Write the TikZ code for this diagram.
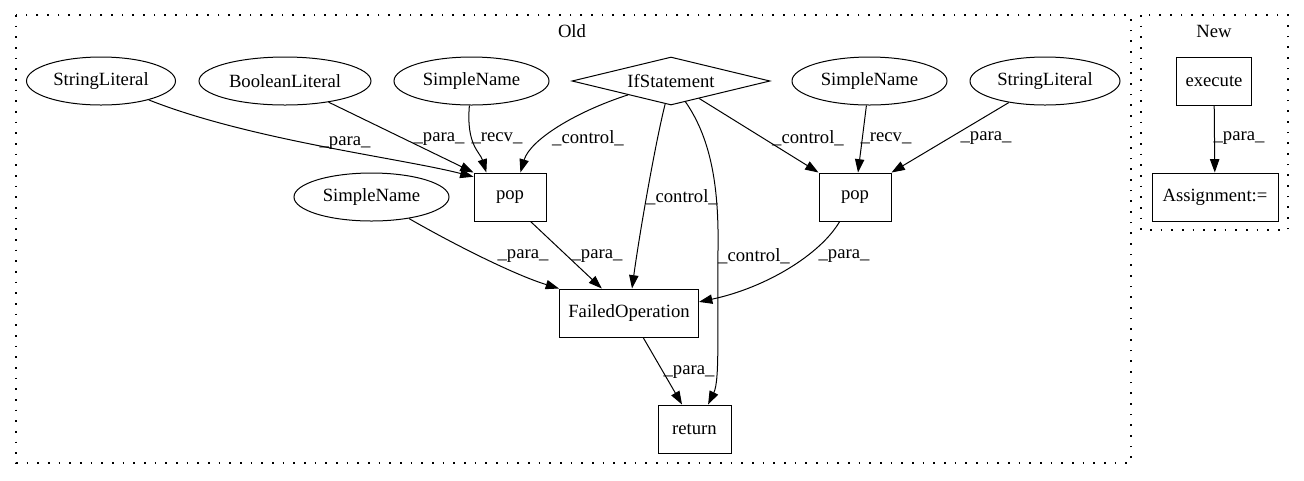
\documentclass[tikz,border=0pt]{standalone}
\usepackage{fontspec}
\setmainfont{Liberation Serif}
\usetikzlibrary{arrows.meta,shapes.geometric}
\tikzset{
  every node/.style={font=\fontsize{14pt}{16pt}\selectfont, inner sep=0pt},
  ell/.style={draw, ellipse, line width=0.75pt, minimum height=36pt},
  box/.style={draw, rectangle, line width=0.75pt, minimum height=36pt, minimum width=54pt},
  dia/.style={draw, diamond, aspect=4.125, line width=0.75pt, minimum width=148.5pt, minimum height=36pt},
  cluster/.style={draw, line width=0.9pt, dash pattern=on 1.2pt off 6.8pt},
  edge/.style={draw, line width=0.75pt, -{Triangle[length=10pt,width=7pt]}},
  lab/.style={font=\fontsize{14pt}{16pt}\selectfont}
}
\begin{document}
\begin{tikzpicture}[x=0.75pt,y=-0.75pt]
\useasboundingbox (0,0) rectangle (1304,480);
% clusters
\draw[cluster] (16,15) rectangle (1131,463);
\draw[cluster] (1141,15) rectangle (1288,230);
\node (oldlab) at (572,31) {Old};
\node (newlab) at (1214,31) {New};
% nodes
\node[ell, minimum width=111.75pt] (sl1) at (101,81) {StringLiteral};
\node[ell, minimum width=129pt] (bl) at (285,81) {BooleanLiteral};
\node[ell, minimum width=116.25pt] (sn1) at (471.5,81) {SimpleName};
\node[dia] (if) at (671,81) {IfStatement};
\node[ell, minimum width=116.25pt] (sn3) at (869.5,81) {SimpleName};
\node[ell, minimum width=112.5pt] (sl2) at (1045,81) {StringLiteral};
\node[ell, minimum width=116.25pt] (sn2) at (371.5,197) {SimpleName};
\node[box] (popl) at (510,197) {pop};
\node[box] (popr) at (855,197) {pop};
\node[box, minimum width=104.25pt] (fo) at (629,313) {FailedOperation};
\node[box, minimum width=54.75pt] (ret) at (694.5,429) {return};
\node[box, minimum width=56pt] (exe) at (1214,81) {execute};
\node[box, minimum width=94.5pt] (asg) at (1215,197) {Assignment:=};
% edges
\draw[edge] (sl1) .. controls (250,140) and (400,158) .. (popl.151)
  node[lab, at={(345,143)}] {\_para\_};
\draw[edge] (bl) -- (popl.north west)
  node[lab, at={(439,139)}] {\_para\_};
\draw[edge] (sn1) .. controls (466,145) and (480,152) .. (popl.134)
  node[lab, at={(497,138)}] {\_recv\_};
\draw[edge] (if) .. controls (575,112) and (530,140) .. (popl.67)
  node[lab, at={(588,138)}] {\_control\_};
\draw[edge] (if) .. controls (656,140) and (640,230) .. (fo.83)
  node[lab, at={(682,197)}] {\_control\_};
\draw[edge] (if) .. controls (712,140) and (719,190) .. (718,250)
  .. controls (717,330) and (720,380) .. (ret.61)
  node[lab, at={(754,256)}] {\_control\_};
\draw[edge] (if) -- (popr.north west)
  node[lab, at={(808,138)}] {\_control\_};
\draw[edge] (sn3) -- (popr.83)
  node[lab, at={(886,138)}] {\_recv\_};
\draw[edge] (sl2) -- (popr.north east)
  node[lab, at={(986,138)}] {\_para\_};
\draw[edge] (sn2) .. controls (455,245) and (515,275) .. (fo.north west)
  node[lab, at={(523,256)}] {\_para\_};
\draw[edge] (popl.-50) -- (fo.138)
  node[lab, at={(597,256)}] {\_para\_};
\draw[edge] (popr.-122) .. controls (820,255) and (765,288) .. (fo.9)
  node[lab, at={(844,256)}] {\_para\_};
\draw[edge] (fo.-60) -- (ret.117)
  node[lab, at={(689,372)}] {\_para\_};
\draw[edge] (exe) -- (asg)
  node[lab, at={(1239,138)}] {\_para\_};
\end{tikzpicture}
\end{document}
